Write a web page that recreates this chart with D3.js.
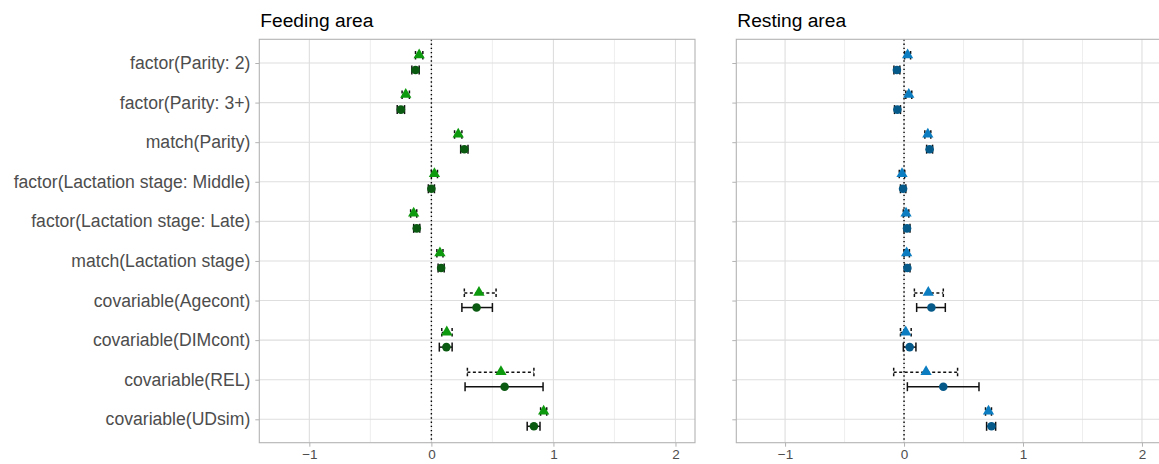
<!DOCTYPE html>
<html>
<head>
<meta charset="utf-8">
<script src="https://cdn.jsdelivr.net/npm/d3@7"></script>
<style>
  body { margin: 0; background: #fff; }
  svg text { font-family: "Liberation Sans", Arial, Helvetica, sans-serif; }
</style>
</head>
<body>
<div id="chart"></div>
<script>
// categories, top to bottom
const terms = [
  "factor(Parity: 2)", "factor(Parity: 3+)", "match(Parity)",
  "factor(Lactation stage: Middle)", "factor(Lactation stage: Late)", "match(Lactation stage)",
  "covariable(Agecont)", "covariable(DIMcont)", "covariable(REL)", "covariable(UDsim)"
];
const xTicks = [-1, 0, 1, 2];
const xMinor = [-0.5, 0.5, 1.5];

// Feeding area - triangle series (dashed errorbars)
const feedTriEst = [-0.10, -0.21, 0.22, 0.025, -0.145, 0.07, 0.39, 0.126, 0.57, 0.92];
const feedTriLo  = [-0.13, -0.24, 0.19, 0.0, -0.17, 0.045, 0.27, 0.085, 0.295, 0.895];
const feedTriHi  = [-0.07, -0.18, 0.25, 0.05, -0.12, 0.095, 0.53, 0.17, 0.84, 0.945];
// Feeding area - circle series (solid errorbars)
const feedCirEst = [-0.13, -0.25, 0.27, 0.0, -0.12, 0.08, 0.37, 0.123, 0.60, 0.84];
const feedCirLo  = [-0.16, -0.28, 0.24, -0.025, -0.145, 0.055, 0.25, 0.065, 0.276, 0.785];
const feedCirHi  = [-0.10, -0.22, 0.30, 0.025, -0.095, 0.105, 0.50, 0.17, 0.915, 0.89];

// Resting area - triangle series
const restTriEst = [0.03, 0.04, 0.20, -0.017, 0.017, 0.022, 0.204, 0.014, 0.185, 0.71];
const restTriLo  = [0.005, 0.015, 0.175, -0.04, -0.006, 0.0, 0.087, -0.03, -0.087, 0.685];
const restTriHi  = [0.055, 0.065, 0.225, 0.006, 0.04, 0.045, 0.33, 0.06, 0.45, 0.735];
// Resting area - circle series
const restCirEst = [-0.06, -0.056, 0.215, -0.008, 0.025, 0.028, 0.23, 0.047, 0.33, 0.735];
const restCirLo  = [-0.085, -0.08, 0.19, -0.03, 0.0, 0.005, 0.106, -0.006, 0.028, 0.694];
const restCirHi  = [-0.035, -0.03, 0.24, 0.015, 0.05, 0.05, 0.347, 0.10, 0.63, 0.77];

const width = 1159, height = 464;
const svg = d3.select("#chart").append("svg")
  .attr("width", width).attr("height", height);

const panelTop = 39.3, panelBottom = 442.7;
const xDomain = [-1.41, 2.16];

const y = d3.scalePoint()
  .domain(terms)
  .range([63, 419.3]);

function rows(est, lo, hi) {
  return terms.map((t, i) => ({ term: t, est: est[i], lo: lo[i], hi: hi[i] }));
}

function drawPanel(opt) {
  const x = d3.scaleLinear().domain(xDomain).range([opt.left, opt.right]);
  const g = svg.append("g");

  // minor + major grid
  g.selectAll(".minor").data(xMinor).enter().append("line")
    .attr("x1", d => x(d)).attr("x2", d => x(d))
    .attr("y1", panelTop).attr("y2", panelBottom)
    .attr("stroke", "#e6e6e6").attr("stroke-width", 0.7);
  g.selectAll(".major").data(xTicks).enter().append("line")
    .attr("x1", d => x(d)).attr("x2", d => x(d))
    .attr("y1", panelTop).attr("y2", panelBottom)
    .attr("stroke", "#dedede").attr("stroke-width", 1.1);
  g.selectAll(".hgrid").data(terms).enter().append("line")
    .attr("x1", opt.left).attr("x2", opt.right)
    .attr("y1", d => y(d)).attr("y2", d => y(d))
    .attr("stroke", "#dedede").attr("stroke-width", 1.1);

  // zero reference line
  g.append("line")
    .attr("x1", x(0)).attr("x2", x(0))
    .attr("y1", panelTop).attr("y2", panelBottom)
    .attr("stroke", "#000").attr("stroke-width", 1.4)
    .attr("stroke-dasharray", "1.4,2.8");

  // panel border
  g.append("rect")
    .attr("x", opt.left).attr("y", panelTop)
    .attr("width", opt.right - opt.left).attr("height", panelBottom - panelTop)
    .attr("fill", "none").attr("stroke", "#b3b3b3").attr("stroke-width", 1.1);

  // x axis
  const xa = g.append("g").attr("transform", `translate(0,${panelBottom})`)
    .call(d3.axisBottom(x).tickValues(xTicks).tickSize(4).tickPadding(3)
      .tickFormat(d => d < 0 ? "\u2212" + Math.abs(d) : d));
  xa.select(".domain").remove();
  xa.selectAll("line").attr("stroke", "#b3b3b3");
  xa.selectAll("text").attr("fill", "#4d4d4d").style("font-size", "13.5px");

  // y axis
  const ya = g.append("g").attr("transform", `translate(${opt.left},0)`)
    .call(d3.axisLeft(y).tickSize(4).tickPadding(5)
      .tickFormat(opt.labels ? (d => d) : () => ""));
  ya.select(".domain").remove();
  ya.selectAll("line").attr("stroke", "#b3b3b3");
  ya.selectAll("text").attr("fill", "#4d4d4d").style("font-size", "17.6px");

  // title
  g.append("text").attr("x", opt.left + 1).attr("y", 27)
    .style("font-size", "19.2px").attr("fill", "#000").text(opt.title);

  const series = [
    { data: rows(...opt.tri), dy: -7.5, dash: "3,2.5", shape: "tri", fill: opt.triColor },
    { data: rows(...opt.cir), dy: 7, dash: null, shape: "cir", fill: opt.cirColor }
  ];

  series.forEach(s => {
    const sg = g.append("g");
    const eb = sg.selectAll(".eb").data(s.data).enter().append("g");
    eb.append("line")
      .attr("x1", d => x(d.lo)).attr("x2", d => x(d.hi))
      .attr("y1", d => y(d.term) + s.dy).attr("y2", d => y(d.term) + s.dy);
    eb.append("line")
      .attr("x1", d => x(d.lo)).attr("x2", d => x(d.lo))
      .attr("y1", d => y(d.term) + s.dy - 4.5).attr("y2", d => y(d.term) + s.dy + 4.5);
    eb.append("line")
      .attr("x1", d => x(d.hi)).attr("x2", d => x(d.hi))
      .attr("y1", d => y(d.term) + s.dy - 4.5).attr("y2", d => y(d.term) + s.dy + 4.5);
    eb.selectAll("line")
      .attr("stroke", "#111").attr("stroke-width", 1.5)
      .attr("stroke-dasharray", s.dash);

    if (s.shape === "tri") {
      sg.selectAll(".pt").data(s.data).enter().append("path")
        .attr("d", d3.symbol(d3.symbolTriangle, 55))
        .attr("transform", d => `translate(${x(d.est)},${y(d.term) + s.dy - 0.5})`)
        .attr("fill", s.fill);
    } else {
      sg.selectAll(".pt").data(s.data).enter().append("circle")
        .attr("cx", d => x(d.est)).attr("cy", d => y(d.term) + s.dy)
        .attr("r", 4.3).attr("fill", s.fill);
    }
  });
}

drawPanel({
  left: 259.3, right: 695, title: "Feeding area", labels: true,
  tri: [feedTriEst, feedTriLo, feedTriHi],
  cir: [feedCirEst, feedCirLo, feedCirHi],
  triColor: "#0e9a0e", cirColor: "#0b5a12"
});
drawPanel({
  left: 736.3, right: 1161, title: "Resting area", labels: false,
  tri: [restTriEst, restTriLo, restTriHi],
  cir: [restCirEst, restCirLo, restCirHi],
  triColor: "#0b7dc0", cirColor: "#065a8a"
});
</script>
</body>
</html>
